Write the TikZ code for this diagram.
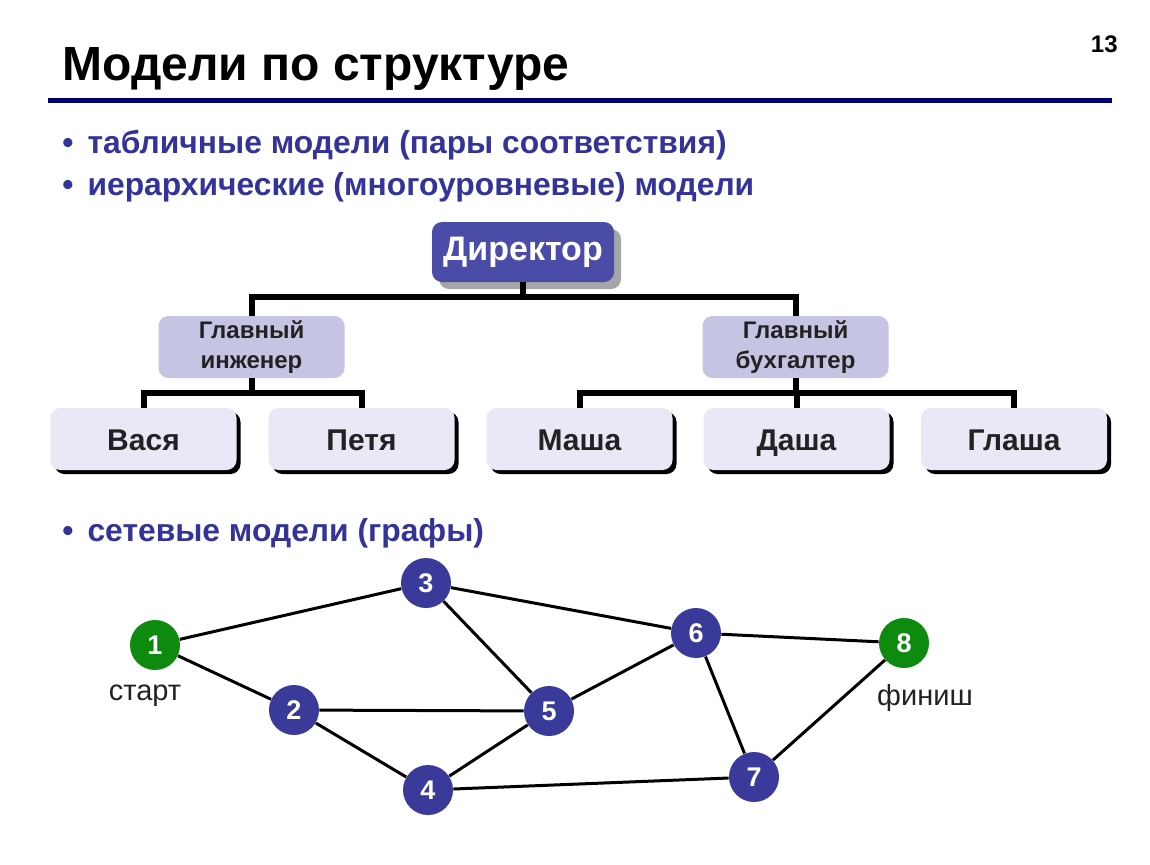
\documentclass[tikz,border=0pt]{standalone}
\usepackage{fontspec}
\setmainfont{Liberation Sans}
\usetikzlibrary{shadows,calc}
\definecolor{navyline}{RGB}{0,0,110}
\definecolor{bullblue}{RGB}{51,51,153}
\definecolor{dirfill}{RGB}{75,75,168}
\definecolor{midfill}{RGB}{197,197,227}
\definecolor{lowfill}{RGB}{232,232,246}
\definecolor{nodeblue}{RGB}{58,58,154}
\definecolor{nodegreen}{RGB}{14,138,14}
\definecolor{txtdark}{RGB}{34,34,34}
\tikzset{
  dirbox/.style={rounded corners=5pt, fill=dirfill, text=white, font=\bfseries\fontsize{17}{20}\selectfont,
    minimum width=91pt, minimum height=30pt, inner sep=0pt,
    drop shadow={shadow xshift=3.5pt, shadow yshift=-3.5pt, fill=black!35, opacity=1}},
  midbox/.style={rounded corners=5pt, fill=midfill, text=txtdark, font=\bfseries\fontsize{12}{15}\selectfont,
    minimum width=93pt, minimum height=31pt, inner sep=0pt, align=center},
  lowbox/.style={rounded corners=5pt, fill=lowfill, text=txtdark, font=\bfseries\fontsize{15}{17}\selectfont,
    minimum width=93pt, minimum height=31pt, inner sep=0pt, text height=11pt, text depth=0pt,
    drop shadow={shadow xshift=2pt, shadow yshift=-2pt, fill=black, opacity=1}},
  conn/.style={line width=3pt, black, line join=miter},
  gnode/.style={circle, fill=nodeblue, text=white, font=\bfseries\fontsize{13.5}{15}\selectfont, minimum size=25pt, inner sep=0pt},
  gstart/.style={gnode, fill=nodegreen},
  gedge/.style={line width=1.5pt, black},
  bullet/.style={anchor=base west, text=bullblue, font=\bfseries\fontsize{15.9}{18}\selectfont},
  glabel/.style={text=txtdark, font=\fontsize{14.5}{16}\selectfont}
}
\begin{document}
\begin{tikzpicture}[x=0.5pt, y=-0.5pt]
\useasboundingbox[fill=white] (0,0) rectangle (1150,864);
% title
\node[anchor=base west, inner sep=0pt, font=\bfseries\fontsize{24}{28}\selectfont] (title) at (62,80) {Модели по структуре};
\node[anchor=base east, inner sep=0pt, font=\bfseries\fontsize{12}{14}\selectfont] (pnum) at (1118,52) {13};
\draw[navyline, line width=2.5pt] (48,100) -- (1112,100);
% bullets
\node[bullet, inner sep=0pt] (b1) at (62,153) {•\hspace{7pt}табличные модели (пары соответствия)};
\node[bullet, inner sep=0pt] (b2) at (62,195) {•\hspace{7pt}иерархические (многоуровневые) модели};
\node[bullet, inner sep=0pt] (b3) at (62,541) {•\hspace{7pt}сетевые модели (графы)};
% org chart
\node[dirbox] (dir) at (523,252) {Директор};
\node[midbox] (gi) at (251.5,347) {Главный\\инженер};
\node[midbox] (gb) at (795.5,347) {Главный\\бухгалтер};
\node[lowbox] (vasya) at (143.5,439) {Вася};
\node[lowbox] (petya) at (361.5,439) {Петя};
\node[lowbox] (masha) at (579.5,439) {Маша};
\node[lowbox] (dasha) at (796.5,439) {Даша};
\node[lowbox] (glasha) at (1014,439) {Глаша};
\coordinate (j1) at (523,297);
\coordinate (j2) at (251.5,393);
\coordinate (j3) at (795.5,393);
\draw[conn] (dir.south) -- (j1);
\draw[conn] (j1) -| (gi.north);
\draw[conn] (j1) -| (gb.north);
\draw[conn] (gi.south) -- (j2);
\draw[conn] (j2) -| (vasya.north);
\draw[conn] (j2) -| (petya.north);
\draw[conn] (gb.south) -- (j3);
\draw[conn] (j3) -| (masha.north);
\draw[conn] (j3) -| (dasha.north);
\draw[conn] (j3) -| (glasha.north);
% graph
\node[gstart] (n1) at (155,645) {1};
\node[gnode] (n2) at (294,710) {2};
\node[gnode] (n3) at (426,583) {3};
\node[gnode] (n4) at (428,790) {4};
\node[gnode] (n5) at (549,711) {5};
\node[gnode] (n6) at (696,633) {6};
\node[gnode] (n7) at (754,777) {7};
\node[gstart] (n8) at (904,643) {8};
\foreach \a/\b in {n1/n3,n1/n2,n3/n6,n3/n5,n6/n8,n6/n5,n6/n7,n2/n5,n2/n4,n4/n5,n4/n7,n7/n8}
  \draw[gedge] (\a) -- (\b);
\node[glabel] (start) at (145,696) {старт};
\node[glabel] (finish) at (925,698) {финиш};
\end{tikzpicture}
\end{document}
